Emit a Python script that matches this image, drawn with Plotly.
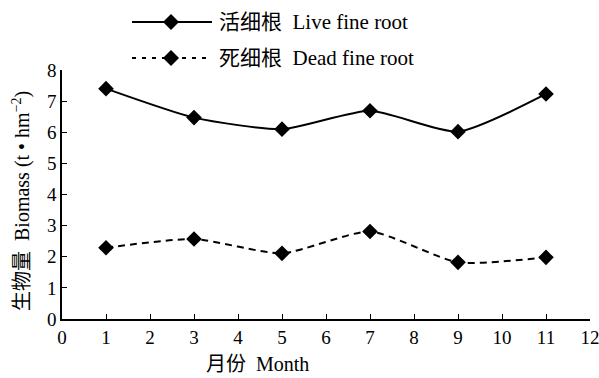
import plotly.graph_objects as go

months = [1, 3, 5, 7, 9, 11]
live_fine_root = [7.40, 6.47, 6.10, 6.69, 6.02, 7.23]
dead_fine_root = [2.29, 2.57, 2.11, 2.81, 1.82, 1.98]
x_ticks = list(range(0, 13))
y_ticks = list(range(0, 9))
live_name = "活细根  Live fine root"
dead_name = "死细根  Dead fine root"

W, H = 599, 378
PL, PR, PT, PB = 62, 590, 70, 319   # plot area in screen pixels
L, R, T, B = PL, W - PR, PT, H - PB
PW, PH = PR - PL, PB - PT
FONT = "'Liberation Serif', 'Times New Roman', 'Noto Sans CJK SC', serif"


def px(xs):
    return (xs - PL) / PW


def py(ys):
    return (PB - ys) / PH


fig = go.Figure()
fig.add_trace(go.Scatter(
    x=months, y=live_fine_root, mode="lines+markers", name=live_name,
    line=dict(color="black", width=2, shape="spline", smoothing=0.6),
    marker=dict(symbol="diamond", size=12, color="black"),
    showlegend=False, cliponaxis=False))
fig.add_trace(go.Scatter(
    x=months, y=dead_fine_root, mode="lines+markers", name=dead_name,
    line=dict(color="black", width=2, dash="7px,5px", shape="spline", smoothing=0.6),
    marker=dict(symbol="diamond", size=12, color="black"),
    showlegend=False, cliponaxis=False))

# custom legend
shapes = []
annotations = []
for yrow, dash, name in [(22, "solid", live_name), (58, "4px,6px", dead_name)]:
    shapes.append(dict(type="line", xref="paper", yref="paper",
                       x0=px(132), x1=px(212), y0=py(yrow), y1=py(yrow),
                       line=dict(color="black", width=2, dash=dash)))
    shapes.append(dict(type="path", xref="paper", yref="paper",
                       xsizemode="pixel", ysizemode="pixel",
                       xanchor=px(171), yanchor=py(yrow),
                       path="M0,8 L8,0 L0,-8 L-8,0 Z",
                       fillcolor="black", line=dict(color="black", width=0)))
    annotations.append(dict(text=name, xref="paper", yref="paper",
                            x=px(217), y=py(yrow), xanchor="left", yanchor="middle",
                            showarrow=False, font=dict(family=FONT, size=21, color="black")))

annotations.append(dict(text="生物量  Biomass (t • hm<sup>−2</sup>)", textangle=-90,
                        xref="paper", yref="paper", x=px(21), y=py(201),
                        xanchor="center", yanchor="middle", showarrow=False,
                        font=dict(family=FONT, size=20, color="black")))
annotations.append(dict(text="月份  Month", xref="paper", yref="paper",
                        x=px(257), y=py(364), xanchor="center", yanchor="middle",
                        showarrow=False, font=dict(family=FONT, size=20, color="black")))

fig.update_layout(
    width=W, height=H,
    margin=dict(l=L, r=R, t=T, b=B, autoexpand=False),
    paper_bgcolor="white", plot_bgcolor="white",
    font=dict(family=FONT, size=19, color="black"),
    shapes=shapes, annotations=annotations,
    xaxis=dict(range=[0, 12], tickvals=x_ticks, ticktext=[str(v) for v in x_ticks],
               showgrid=False, zeroline=False, showline=True, linecolor="black", linewidth=1.5,
               ticks="inside", ticklen=5, tickcolor="black", tickwidth=1.2,
               tickfont=dict(family=FONT, size=19), automargin=False,
               ticklabeloverflow="allow"),
    yaxis=dict(range=[0, 8], tickvals=y_ticks, ticktext=[str(v) for v in y_ticks],
               showgrid=False, zeroline=False, showline=True, linecolor="black", linewidth=1.5,
               ticks="inside", ticklen=5, tickcolor="black", tickwidth=1.2,
               tickfont=dict(family=FONT, size=19), automargin=False,
               ticklabeloverflow="allow"),
)

fig.write_html("out.html",
               config={"displayModeBar": False},
               post_script="document.body.style.margin='0';document.body.style.overflow='hidden';")
